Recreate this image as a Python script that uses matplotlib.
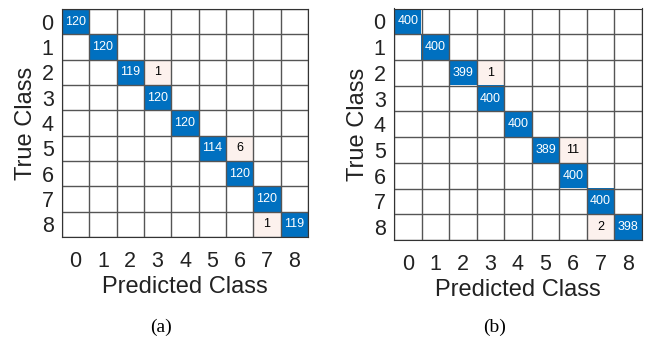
import numpy as np
import matplotlib.pyplot as plt
from matplotlib.colors import to_rgb

plt.rcParams["font.family"] = ["Liberation Sans", "DejaVu Sans"]

classes = [str(i) for i in range(9)]

# confusion matrix entries: (true, predicted, count)
counts_a = [(0, 0, 120), (1, 1, 120), (2, 2, 119), (2, 3, 1), (3, 3, 120),
            (4, 4, 120), (5, 5, 114), (5, 6, 6), (6, 6, 120), (7, 7, 120),
            (8, 7, 1), (8, 8, 119)]
counts_b = [(0, 0, 400), (1, 1, 400), (2, 2, 399), (2, 3, 1), (3, 3, 400),
            (4, 4, 400), (5, 5, 389), (5, 6, 11), (6, 6, 400), (7, 7, 400),
            (8, 7, 2), (8, 8, 398)]

BLUE = "#0070C0"
PALE = "#FCF1ED"


def to_matrix(entries, n=9):
    m = np.zeros((n, n), dtype=int)
    for t, p, c in entries:
        m[t, p] = c
    return m


def draw_confusion(ax, cm):
    n = cm.shape[0]
    img = np.ones((n, n, 3))
    for i in range(n):
        for j in range(n):
            if cm[i, j] == 0:
                continue
            img[i, j] = to_rgb(BLUE if i == j else PALE)
            ax.text(j, i, str(cm[i, j]), ha="center", va="center", fontsize=9,
                    color="white" if i == j else "black")
    ax.imshow(img, aspect="auto", interpolation="nearest")
    for k in range(n + 1):
        ax.axhline(k - 0.5, color="#555555", lw=1)
        ax.axvline(k - 0.5, color="#555555", lw=1)
    ax.set_xlim(-0.5, n - 0.5)
    ax.set_ylim(n - 0.5, -0.5)
    ax.set_xticks(range(n))
    ax.set_yticks(range(n))
    ax.set_xticklabels(classes)
    ax.set_yticklabels(classes)
    ax.tick_params(axis="x", length=0, pad=10, labelsize=15.5, colors="#222222")
    ax.tick_params(axis="y", length=0, pad=6, labelsize=15.5, colors="#222222")
    for s in ax.spines.values():
        s.set_color("#333333")
    ax.set_xlabel("Predicted Class", fontsize=17, color="#222222", labelpad=3)
    ax.set_ylabel("True Class", fontsize=17, color="#222222", labelpad=3)


fig = plt.figure(figsize=(6.51, 3.39), dpi=100)
ax_a = fig.add_axes([62 / 651, 1 - 237 / 339, 246 / 651, 228 / 339])
ax_b = fig.add_axes([394 / 651, 1 - 240 / 339, 248 / 651, 231.5 / 339])

draw_confusion(ax_a, to_matrix(counts_a))
draw_confusion(ax_b, to_matrix(counts_b))

fig.text(161 / 651, 1 - 327 / 339, "(a)", ha="center", va="center",
         fontsize=14, family="Liberation Serif")
fig.text(495 / 651, 1 - 327 / 339, "(b)", ha="center", va="center",
         fontsize=14, family="Liberation Serif")

fig.savefig("out.png", dpi=100)
